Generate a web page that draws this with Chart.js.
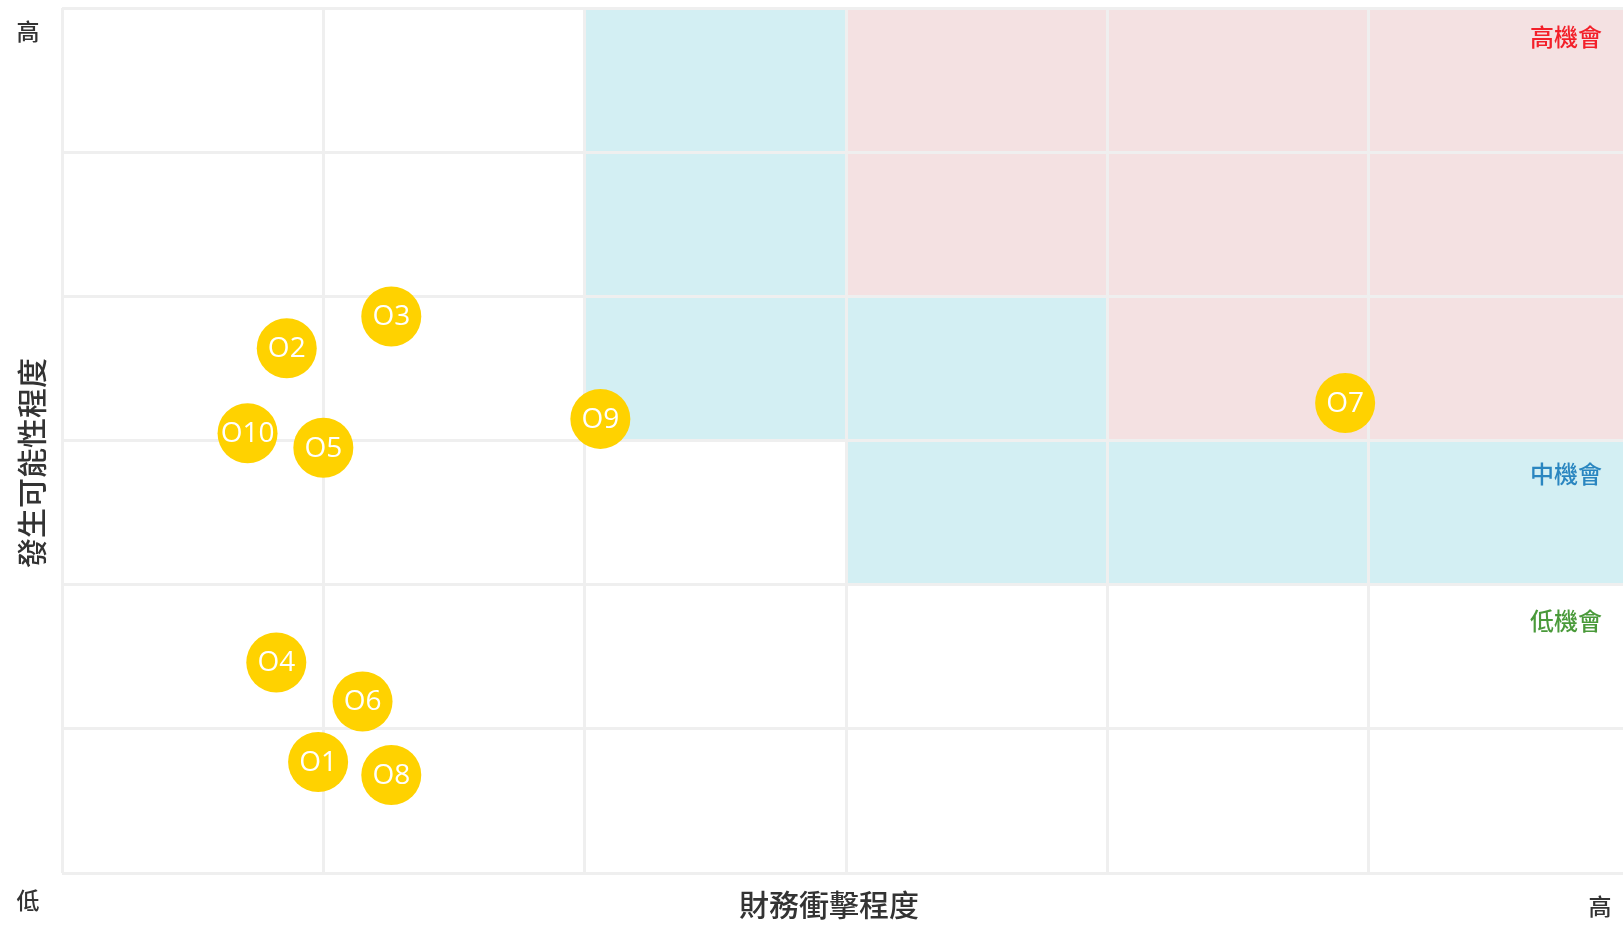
<!DOCTYPE html>
<html>
<head>
<meta charset="utf-8">
<script src="https://cdn.jsdelivr.net/npm/chart.js@4.4.1/dist/chart.umd.min.js"></script>
<style>
  html, body { margin: 0; padding: 0; background: #fff; overflow: hidden; }
  #wrap { width: 1630px; height: 925px; }
</style>
</head>
<body>
<div id="wrap"><canvas id="chart" width="1630" height="925"></canvas></div>
<script>
// ===== DATA =====
const pointNames = ['O1', 'O2', 'O3', 'O4', 'O5', 'O6', 'O7', 'O8', 'O9', 'O10'];
const impactX    = [0.98, 0.86, 1.26, 0.82, 1.00, 1.15, 4.91, 1.26, 2.06, 0.71];
const likelyY    = [0.77, 3.64, 3.86, 1.46, 2.95, 1.19, 3.26, 0.68, 3.15, 3.05];

// shaded zones: [xFrom, xTo, yFrom, yTo]
const midZones  = [[2, 3, 3, 6], [3, 4, 3, 4], [3, 6, 2, 3]];
const highZones = [[3, 6, 4, 6], [4, 6, 3, 4]];

const zoneLabels = ['高機會', '中機會', '低機會'];
const zoneLabelY = [5.8, 2.77, 1.75];
const zoneColors = ['#f3202a', '#2a86c0', '#4a9a3a'];

const xTitle = '財務衝擊程度';
const yTitle = '發生可能性程度';
const lowLabel = '低';
const highLabel = '高';

const CJK = '"Noto Sans CJK TC", "Noto Sans", sans-serif';

// ===== PLUGINS =====
const zonePlugin = {
  id: 'zones',
  beforeDraw(chart) {
    const { ctx, scales: { x, y } } = chart;
    const fill = (zones, color) => {
      ctx.fillStyle = color;
      zones.forEach(z => {
        const x0 = x.getPixelForValue(z[0]), x1 = x.getPixelForValue(z[1]);
        const y0 = y.getPixelForValue(z[3]), y1 = y.getPixelForValue(z[2]);
        ctx.fillRect(x0, y0, x1 - x0, y1 - y0);
      });
    };
    ctx.save();
    fill(midZones, '#d3eff3');
    fill(highZones, '#f4e1e2');
    ctx.restore();
  }
};

const textPlugin = {
  id: 'texts',
  afterDatasetsDraw(chart) {
    const { ctx, scales: { y } } = chart;
    ctx.save();

    // bubble labels
    ctx.fillStyle = '#fff';
    ctx.font = '28px "Open Sans", sans-serif';
    ctx.textAlign = 'center';
    ctx.textBaseline = 'middle';
    chart.getDatasetMeta(0).data.forEach((pt, i) => {
      ctx.fillText(pointNames[i], pt.x, pt.y + 1);
    });

    // zone labels
    ctx.font = '500 24px ' + CJK;
    ctx.textAlign = 'right';
    zoneLabels.forEach((t, i) => {
      ctx.fillStyle = zoneColors[i];
      ctx.fillText(t, 1602, y.getPixelForValue(zoneLabelY[i]));
    });

    // axis end labels
    ctx.fillStyle = '#333';
    ctx.font = '500 23px ' + CJK;
    ctx.textAlign = 'center';
    ctx.fillText(highLabel, 28, 31);
    ctx.fillText(lowLabel, 28, 900);
    ctx.fillText(highLabel, 1600, 906);

    // axis titles
    ctx.font = '500 30px ' + CJK;
    ctx.fillText(xTitle, 829, 905);
    ctx.translate(32, 463);
    ctx.rotate(-Math.PI / 2);
    ctx.fillText(yTitle, 0, 0);
    ctx.restore();
  }
};

// ===== CHART =====
const gridOpts = { color: '#efefef', lineWidth: 3, drawTicks: false };

new Chart(document.getElementById('chart'), {
  type: 'bubble',
  data: {
    datasets: [{
      data: impactX.map((v, i) => ({ x: v, y: likelyY[i], r: 30 })),
      backgroundColor: '#ffd200',
      borderWidth: 0,
      hoverBorderWidth: 0
    }]
  },
  options: {
    responsive: false,
    animation: false,
    layout: { autoPadding: false, padding: { left: 62, top: 8, right: 0, bottom: 52 } },
    plugins: { legend: { display: false }, tooltip: { enabled: false } },
    scales: {
      x: {
        min: 0, max: 6,
        ticks: { display: false, stepSize: 1 },
        grid: gridOpts,
        border: { display: false }
      },
      y: {
        min: 0, max: 6,
        ticks: { display: false, stepSize: 1 },
        grid: gridOpts,
        border: { display: false }
      }
    }
  },
  plugins: [zonePlugin, textPlugin]
});
</script>
</body>
</html>
